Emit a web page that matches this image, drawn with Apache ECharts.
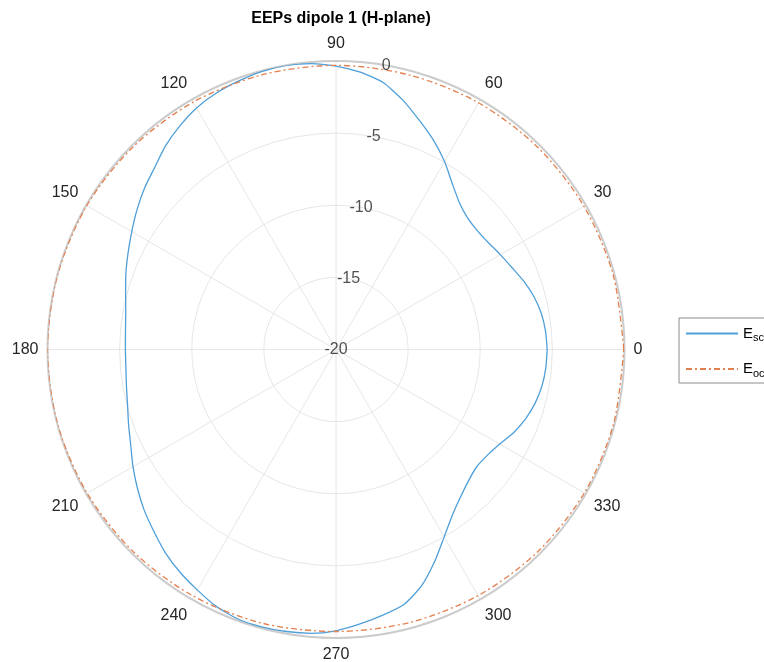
<!DOCTYPE html>
<html>
<head>
<meta charset="utf-8">
<script src="https://cdn.jsdelivr.net/npm/echarts@6/dist/echarts.min.js"></script>
<style>
html,body{margin:0;padding:0;background:#fff;}
#chart{width:764px;height:662px;}
</style>
</head>
<body>
<div id="chart"></div>
<script>
// ---- data (angle in degrees, value in dB) ----
var escAngles = [0,5,10,15,20,25,30,35,40,45,50,55,60,65,70,75,80,85,90,95,100,105,110,115,120,125,130,135,140,145,150,155,160,165,170,175,180,185,190,195,200,205,210,215,220,225,230,235,240,245,250,255,260,265,270,275,280,285,290,295,300,305,310,315,320,325,330,335,340,345,350,355,360];
var escValues = [-5.36,-5.42,-5.55,-5.8,-6.15,-6.55,-6.85,-7.1,-7.2,-7.1,-6.7,-5.95,-4.95,-4.0,-3.1,-2.1,-1.2,-0.7,-0.35,-0.1,0,-0.05,-0.2,-0.38,-0.66,-1.1,-1.6,-2.2,-2.65,-3.15,-3.65,-4.1,-4.5,-4.9,-5.2,-5.35,-5.4,-5.38,-5.25,-5.04,-4.7,-4.3,-3.75,-3.2,-2.65,-2.15,-1.6,-1.15,-0.76,-0.35,-0.12,-0.1,-0.15,-0.25,-0.5,-0.9,-1.3,-1.72,-2.6,-3.8,-5.0,-5.95,-6.6,-7.05,-7.3,-7.2,-6.9,-6.4,-6.0,-5.7,-5.5,-5.4,-5.36];
var eocAngles = [0,15,30,45,60,75,90,105,120,135,150,165,180,195,210,225,240,255,270,285,300,315,330,345,360];
var eocValues = [-0.05,-0.1,-0.15,-0.2,-0.25,-0.3,-0.3,-0.28,-0.2,-0.12,-0.05,-0.02,0,-0.02,-0.08,-0.15,-0.25,-0.35,-0.45,-0.4,-0.3,-0.2,-0.12,-0.08,-0.05];
var rTicks = [-20,-15,-10,-5,0];
var angleTicks = [0,30,60,90,120,150,180,210,240,270,300,330];
var seriesNames = ['Esc','Eoc'];
var titleText = 'EEPs dipole 1 (H-plane)';

function pairs(vals, angs){ return vals.map(function(v,i){ return [v, angs[i]]; }); }

var chart = echarts.init(document.getElementById('chart'), null, {renderer:'canvas'});
var FONT = '"Liberation Sans", Arial, Helvetica, sans-serif';
var option = {
  animation: false,
  title: {
    text: titleText, left: 336, top: 6, textAlign: 'center',
    textStyle: {fontFamily: FONT, fontSize: 16, fontWeight: 'bold', color: '#000'}
  },
  legend: {
    orient: 'vertical', left: 679, top: 318,
    data: seriesNames,
    itemWidth: 52, itemHeight: 14, itemGap: 18,
    padding: [8, 30, 4, 6],
    borderColor: '#8c8c8c', borderWidth: 1, backgroundColor: '#fff',
    itemStyle: {opacity: 0},
    formatter: function(n){ return n === 'Esc' ? '{m|E}{s|sc}' : '{m|E}{s|oc}'; },
    textStyle: {
      fontFamily: FONT, color: '#000',
      rich: {
        m: {fontSize: 15, fontFamily: FONT},
        s: {fontSize: 11, fontFamily: FONT, padding: [9,0,0,0]}
      }
    }
  },
  polar: {center: [336, 349.5], radius: 288.5},
  angleAxis: {
    type: 'value', min: 0, max: 360, interval: 30, startAngle: 0, clockwise: false,
    axisLine: {show: true, lineStyle: {color: '#cccccc', width: 2}},
    axisTick: {show: false},
    splitLine: {show: true, lineStyle: {color: '#e6e6e6', width: 1}},
    axisLabel: {
      margin: 9, fontFamily: FONT, fontSize: 16, color: '#262626',
      formatter: function(v){ return angleTicks.indexOf(v) >= 0 ? String(v) : ''; }
    }
  },
  radiusAxis: {
    type: 'value', min: rTicks[0], max: rTicks[rTicks.length-1], interval: 5,
    axisLine: {show: false}, axisTick: {show: false}, axisLabel: {show: false},
    splitLine: {show: true, lineStyle: {color: '#e6e6e6', width: 1}}
  },
  series: [
    {
      name: 'Esc', type: 'line', coordinateSystem: 'polar', smooth: 0.2,
      symbol: 'none', data: pairs(escValues, escAngles),
      lineStyle: {color: '#4f9fd9', width: 1.3}, itemStyle: {color: '#4f9fd9'}, z: 3
    },
    {
      name: 'Eoc', type: 'line', coordinateSystem: 'polar', smooth: 0.3,
      symbol: 'none', data: pairs(eocValues, eocAngles),
      lineStyle: {color: '#e3804f', width: 1.3, type: [6,3,2,3]}, itemStyle: {color: '#e3804f'}, z: 4
    },
    {
      name: 'rlabels', type: 'scatter', coordinateSystem: 'polar',
      symbolSize: 1, itemStyle: {color: 'rgba(0,0,0,0)'}, silent: true, z: 5,
      data: rTicks.map(function(r){ return [r, 80]; }),
      label: {
        show: true, position: 'inside', fontFamily: FONT, fontSize: 16, color: '#262626',
        formatter: function(p){ return String(p.value[0]); }
      }
    }
  ]
};
chart.setOption(option);
</script>
</body>
</html>
